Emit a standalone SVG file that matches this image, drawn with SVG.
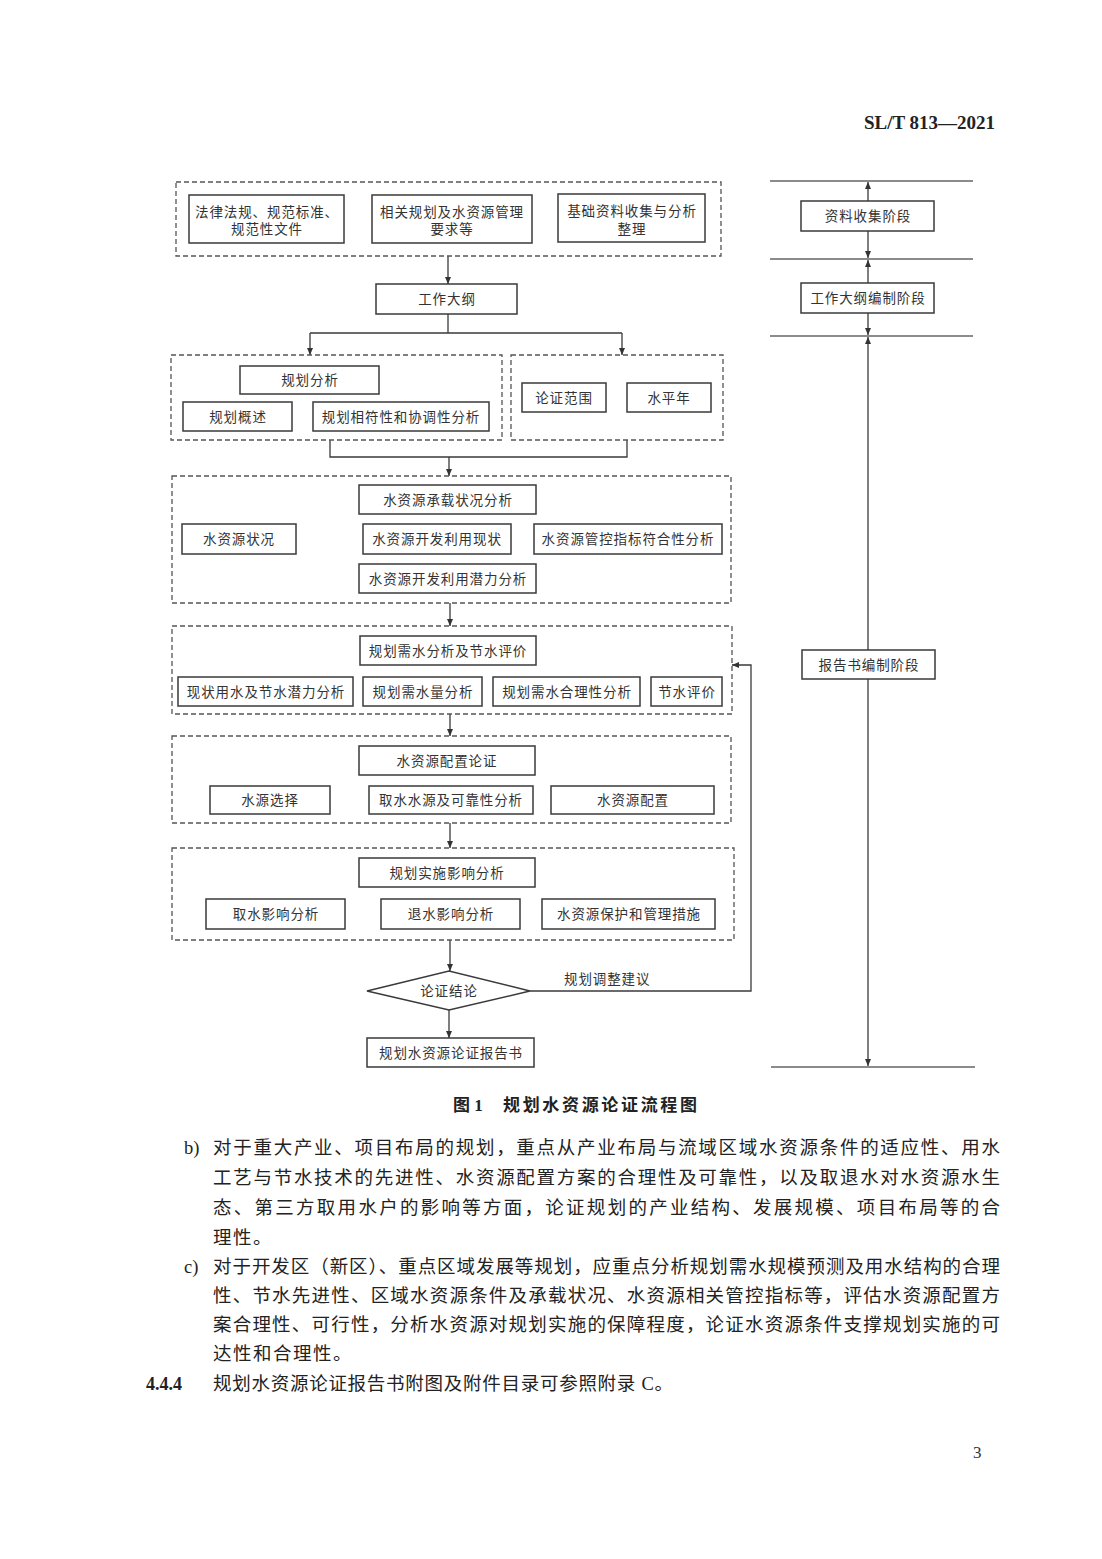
<svg xmlns="http://www.w3.org/2000/svg" width="1102" height="1559" viewBox="0 0 1102 1559">
<style>
.box{fill:#fff;stroke:#3a3a3a;stroke-width:1.5}
.grp{fill:none;stroke:#555;stroke-width:1.3;stroke-dasharray:5 3}
.ln{fill:none;stroke:#3a3a3a;stroke-width:1.3}
.hl{fill:none;stroke:#666;stroke-width:1.6}
.t{font-family:"Noto Sans CJK SC","Noto Sans",sans-serif;font-size:13.5px;fill:#333;text-anchor:middle;letter-spacing:0.9px}
.tl{font-family:"Noto Sans CJK SC","Noto Sans",sans-serif;font-size:13.5px;fill:#333;letter-spacing:0.9px}
.body{font-family:"Liberation Serif","Noto Sans CJK SC",serif;font-size:18.5px;fill:#222}
.cap{font-family:"Liberation Serif","Noto Sans CJK SC",serif;font-size:17px;font-weight:bold;fill:#222}
</style>
<defs>
<marker id="ah" markerWidth="8" markerHeight="8" refX="7" refY="4" orient="auto-start-reverse" markerUnits="userSpaceOnUse">
<path d="M0,1 L7,4 L0,7 Z" fill="#333"/>
</marker>
</defs>
<rect width="1102" height="1559" fill="#fff"/>

<text x="995" y="129" text-anchor="end" style="font-family:'Liberation Serif',serif;font-size:19px;font-weight:bold;fill:#222">SL/T 813—2021</text>

<g id="connectors">
<path class="ln" d="M448,256 V284" marker-end="url(#ah)"/>
<path class="ln" d="M448,314 V333 M310,333 H622"/>
<path class="ln" d="M310,333 V355" marker-end="url(#ah)"/>
<path class="ln" d="M622,333 V355" marker-end="url(#ah)"/>
<path class="ln" d="M330,440 V457 H627 V440"/>
<path class="ln" d="M449,457 V476" marker-end="url(#ah)"/>
<path class="ln" d="M450,603 V626" marker-end="url(#ah)"/>
<path class="ln" d="M450,714 V736" marker-end="url(#ah)"/>
<path class="ln" d="M450,823 V848" marker-end="url(#ah)"/>
<path class="ln" d="M450,940 V971" marker-end="url(#ah)"/>
<path class="ln" d="M449,1010 V1038" marker-end="url(#ah)"/>
<path class="ln" d="M530,991 H751 V665 H732" marker-end="url(#ah)"/>
<text class="tl" x="564" y="984">规划调整建议</text>
<path class="hl" d="M770,181 H973 M770,259 H973 M770,336 H973 M771,1067 H975"/>
<path class="ln" d="M868,182 V258" marker-start="url(#ah)" marker-end="url(#ah)"/>
<path class="ln" d="M868,260 V335" marker-start="url(#ah)" marker-end="url(#ah)"/>
<path class="ln" d="M868,337 V1066" marker-start="url(#ah)" marker-end="url(#ah)"/>
</g>

<g id="grp-inputs"><rect class="grp" x="176" y="182" width="545" height="74"/></g>
<g id="n-laws"><rect class="box" x="189" y="195" width="155" height="48"/><text class="t" x="267" y="216.5">法律法规、规范标准、</text><text class="t" x="267" y="234">规范性文件</text></g>
<g id="n-plans"><rect class="box" x="372" y="195" width="160" height="48"/><text class="t" x="452" y="216.5">相关规划及水资源管理</text><text class="t" x="452" y="234">要求等</text></g>
<g id="n-data"><rect class="box" x="558" y="194" width="147" height="48"/><text class="t" x="632" y="216">基础资料收集与分析</text><text class="t" x="632" y="233.5">整理</text></g>
<g id="n-outline"><rect class="box" x="376" y="284" width="141" height="30"/><text class="t" x="447" y="304">工作大纲</text></g>

<g id="grp-plan"><rect class="grp" x="171" y="355" width="331" height="85"/></g>
<g id="grp-scope"><rect class="grp" x="511" y="355" width="212" height="85"/></g>
<g id="n-planana"><rect class="box" x="240" y="366" width="139" height="28"/><text class="t" x="310" y="385">规划分析</text></g>
<g id="n-overview"><rect class="box" x="183" y="402" width="109" height="29"/><text class="t" x="238" y="421.5">规划概述</text></g>
<g id="n-consist"><rect class="box" x="313" y="402" width="176" height="29"/><text class="t" x="401" y="421.5">规划相符性和协调性分析</text></g>
<g id="n-range"><rect class="box" x="522" y="383" width="84" height="29"/><text class="t" x="564" y="402.5">论证范围</text></g>
<g id="n-year"><rect class="box" x="627" y="383" width="84" height="29"/><text class="t" x="669" y="402.5">水平年</text></g>

<g id="grp-carry"><rect class="grp" x="172" y="476" width="559" height="127"/></g>
<g id="n-carry"><rect class="box" x="359" y="485" width="177" height="29"/><text class="t" x="448" y="504.5">水资源承载状况分析</text></g>
<g id="n-status"><rect class="box" x="182" y="524" width="114" height="30"/><text class="t" x="239" y="544">水资源状况</text></g>
<g id="n-use"><rect class="box" x="363" y="524" width="148" height="30"/><text class="t" x="437" y="544">水资源开发利用现状</text></g>
<g id="n-index"><rect class="box" x="534" y="524" width="188" height="30"/><text class="t" x="628" y="544">水资源管控指标符合性分析</text></g>
<g id="n-potential"><rect class="box" x="359" y="564" width="177" height="29"/><text class="t" x="448" y="583.5">水资源开发利用潜力分析</text></g>

<g id="grp-demand"><rect class="grp" x="172" y="626" width="560" height="88"/></g>
<g id="n-demand"><rect class="box" x="360" y="636" width="176" height="29"/><text class="t" x="448" y="655.5">规划需水分析及节水评价</text></g>
<g id="n-cur"><rect class="box" x="178" y="677" width="175" height="29"/><text class="t" x="266" y="696.5">现状用水及节水潜力分析</text></g>
<g id="n-qty"><rect class="box" x="363" y="677" width="119" height="29"/><text class="t" x="423" y="696.5">规划需水量分析</text></g>
<g id="n-rational"><rect class="box" x="493" y="677" width="147" height="29"/><text class="t" x="567" y="696.5">规划需水合理性分析</text></g>
<g id="n-save"><rect class="box" x="651" y="677" width="71" height="29"/><text class="t" x="687" y="696.5">节水评价</text></g>

<g id="grp-alloc"><rect class="grp" x="172" y="736" width="559" height="87"/></g>
<g id="n-alloc"><rect class="box" x="359" y="746" width="176" height="29"/><text class="t" x="447" y="765.5">水资源配置论证</text></g>
<g id="n-source"><rect class="box" x="210" y="786" width="120" height="28"/><text class="t" x="270" y="805">水源选择</text></g>
<g id="n-reliab"><rect class="box" x="369" y="786" width="164" height="28"/><text class="t" x="451" y="805">取水水源及可靠性分析</text></g>
<g id="n-config"><rect class="box" x="551" y="786" width="163" height="28"/><text class="t" x="633" y="805">水资源配置</text></g>

<g id="grp-impact"><rect class="grp" x="172" y="848" width="562" height="92"/></g>
<g id="n-impact"><rect class="box" x="359" y="858" width="176" height="29"/><text class="t" x="447" y="877.5">规划实施影响分析</text></g>
<g id="n-intake"><rect class="box" x="206" y="899" width="139" height="30"/><text class="t" x="276" y="919">取水影响分析</text></g>
<g id="n-drain"><rect class="box" x="381" y="899" width="139" height="30"/><text class="t" x="451" y="919">退水影响分析</text></g>
<g id="n-protect"><rect class="box" x="542" y="899" width="173" height="30"/><text class="t" x="629" y="919">水资源保护和管理措施</text></g>

<g id="n-conclusion"><polygon class="box" points="367,991 449,971 530,991 449,1010"/><text class="t" x="449" y="996">论证结论</text></g>
<g id="n-report"><rect class="box" x="367" y="1038" width="167" height="29"/><text class="t" x="451" y="1057.5">规划水资源论证报告书</text></g>

<g id="s-collect"><rect class="box" x="801" y="201" width="133" height="30"/><text class="t" x="868" y="221">资料收集阶段</text></g>
<g id="s-outline"><rect class="box" x="801" y="283" width="133" height="30"/><text class="t" x="868" y="303">工作大纲编制阶段</text></g>
<g id="s-report"><rect class="box" x="802" y="650" width="133" height="29"/><text class="t" x="869" y="669.5">报告书编制阶段</text></g>

<text class="cap" x="453" y="1111">图 1</text>
<text class="cap" x="503" y="1111" textLength="194" lengthAdjust="spacing">规划水资源论证流程图</text>

<text class="body" x="184" y="1154">b)</text>
<text class="body" x="213" y="1154" textLength="787" lengthAdjust="spacing">对于重大产业、项目布局的规划，重点从产业布局与流域区域水资源条件的适应性、用水</text>
<text class="body" x="213" y="1184" textLength="787" lengthAdjust="spacing">工艺与节水技术的先进性、水资源配置方案的合理性及可靠性，以及取退水对水资源水生</text>
<text class="body" x="213" y="1214" textLength="787" lengthAdjust="spacing">态、第三方取用水户的影响等方面，论证规划的产业结构、发展规模、项目布局等的合</text>
<text class="body" x="213" y="1244" style="letter-spacing:1.5px">理性。</text>

<text class="body" x="184" y="1273">c)</text>
<text class="body" x="213" y="1273" textLength="787" lengthAdjust="spacing">对于开发区（新区）、重点区域发展等规划，应重点分析规划需水规模预测及用水结构的合理</text>
<text class="body" x="213" y="1302" textLength="787" lengthAdjust="spacing">性、节水先进性、区域水资源条件及承载状况、水资源相关管控指标等，评估水资源配置方</text>
<text class="body" x="213" y="1331" textLength="787" lengthAdjust="spacing">案合理性、可行性，分析水资源对规划实施的保障程度，论证水资源条件支撑规划实施的可</text>
<text class="body" x="213" y="1360" style="letter-spacing:1.5px">达性和合理性。</text>

<text x="146" y="1390" style="font-family:'Liberation Serif',serif;font-size:18px;font-weight:bold;fill:#222">4.4.4</text>
<text class="body" x="213" y="1390" textLength="460" lengthAdjust="spacing">规划水资源论证报告书附图及附件目录可参照附录 C。</text>

<text x="973" y="1458" style="font-family:'Liberation Serif',serif;font-size:17px;fill:#333">3</text>
</svg>
